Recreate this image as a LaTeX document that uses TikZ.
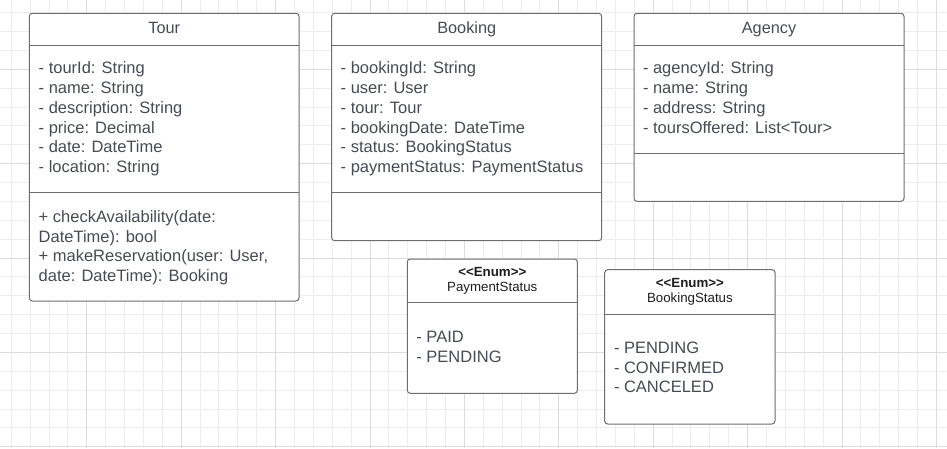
\documentclass[tikz,border=0pt]{standalone}
\usepackage{fontspec}
\setmainfont{Liberation Sans}
\definecolor{gridminor}{HTML}{EDEDED}
\definecolor{gridmajor}{HTML}{DCDCDC}
\definecolor{boxline}{HTML}{6B6E73}
\definecolor{txtgray}{HTML}{474C54}
\definecolor{txtdark}{HTML}{1E1E1E}
\tikzset{
  umlbox/.style={draw=boxline, line width=1pt, fill=white, rounded corners=3pt,
    rectangle, inner sep=0pt, outer sep=0pt, anchor=north west},
  divider/.style={draw=boxline, line width=1pt},
  attr/.style={anchor=base west, inner sep=0pt, text=txtgray,
    font=\fontsize{16.5pt}{19.8pt}\selectfont},
  title/.style={anchor=base, inner sep=0pt, text=txtgray,
    font=\fontsize{16.3pt}{19.6pt}\selectfont},
  stereo/.style={anchor=base, inner sep=0pt, text=txtdark,
    font=\fontsize{13.3pt}{16pt}\selectfont\bfseries},
  enumname/.style={anchor=base, inner sep=0pt, text=txtdark,
    font=\fontsize{13.3pt}{16pt}\selectfont},
  gminor/.style={draw=gridminor, line width=1pt},
  gmajor/.style={draw=gridmajor, line width=1pt},
}
\begin{document}
\begin{tikzpicture}[x=1pt,y=-1pt]
\useasboundingbox (0,0) rectangle (947,448);
\fill[white] (0,0) rectangle (947,448);
% grid
\foreach \k in {0,...,49} \draw[gminor] (11.28+18.88*\k,0) -- (11.28+18.88*\k,448);
\foreach \k in {0,...,23} \draw[gminor] (0,12.6+18.88*\k) -- (947,12.6+18.88*\k);
\foreach \m in {0,...,9} \draw[gmajor] (86.8+94.4*\m,0) -- (86.8+94.4*\m,448);
\foreach \m in {0,...,4} \draw[gmajor] (0,69.2+94.4*\m) -- (947,69.2+94.4*\m);

% Tour
\node[umlbox, minimum width=269.7pt, minimum height=287.7pt] (tour) at (29.3,13.3) {};
\draw[divider] (tour.west |- 0,45) -- (tour.east |- 0,45);
\draw[divider] (tour.west |- 0,192.7) -- (tour.east |- 0,192.7);
\node[title] (tourT) at (164.2,33.3) {Tour};
\foreach \t [count=\i] in {{- tourId: String},{- name: String},{- description: String},{- price: Decimal},{- date: DateTime},{- location: String}}
  \node[attr] (tourA\i) at (38.5,73.3+19.9*\i-19.9) {\t};
\foreach \t [count=\i] in {{+ checkAvailability(date:},{DateTime): bool},{+ makeReservation(user: User,},{date: DateTime): Booking}}
  \node[attr] (tourM\i) at (38.5,222.2+19.8*\i-19.8) {\t};

% Booking
\node[umlbox, minimum width=270pt, minimum height=227.4pt] (booking) at (331.7,13.3) {};
\draw[divider] (booking.west |- 0,45) -- (booking.east |- 0,45);
\draw[divider] (booking.west |- 0,192.7) -- (booking.east |- 0,192.7);
\node[title] (bookingT) at (466.7,33.3) {Booking};
\foreach \t [count=\i] in {{- bookingId: String},{- user: User},{- tour: Tour},{- bookingDate: DateTime},{- status: BookingStatus},{- paymentStatus: PaymentStatus}}
  \node[attr] (bookingA\i) at (340.5,73.3+19.9*\i-19.9) {\t};

% Agency
\node[umlbox, minimum width=270pt, minimum height=188pt] (agency) at (634,13.3) {};
\draw[divider] (agency.west |- 0,45) -- (agency.east |- 0,45);
\draw[divider] (agency.west |- 0,153.7) -- (agency.east |- 0,153.7);
\node[title] (agencyT) at (769,33.3) {Agency};
\foreach \t [count=\i] in {{- agencyId: String},{- name: String},{- address: String},{- toursOffered: List{<}Tour{>}}}
  \node[attr] (agencyA\i) at (642.8,73.3+19.9*\i-19.9) {\t};

% PaymentStatus
\node[umlbox, minimum width=170pt, minimum height=134.3pt] (pay) at (407.3,259) {};
\draw[divider] (pay.west |- 0,302.7) -- (pay.east |- 0,302.7);
\node[stereo] (payS) at (492.3,276.7) {{<}{<}Enum{>}{>}};
\node[enumname] (payN) at (492.3,291.8) {PaymentStatus};
\node[attr] (payA1) at (416.2,342.6) {- PAID};
\node[attr] (payA2) at (416.2,362.4) {- PENDING};

% BookingStatus
\node[umlbox, minimum width=170.3pt, minimum height=154.3pt] (bstat) at (604.7,269.7) {};
\draw[divider] (bstat.west |- 0,314) -- (bstat.east |- 0,314);
\node[stereo] (bstatS) at (689.9,287.4) {{<}{<}Enum{>}{>}};
\node[enumname] (bstatN) at (689.9,302.5) {BookingStatus};
\node[attr] (bstatA1) at (613.8,353.2) {- PENDING};
\node[attr] (bstatA2) at (613.8,373.0) {- CONFIRMED};
\node[attr] (bstatA3) at (613.8,392.8) {- CANCELED};
\end{tikzpicture}
\end{document}
